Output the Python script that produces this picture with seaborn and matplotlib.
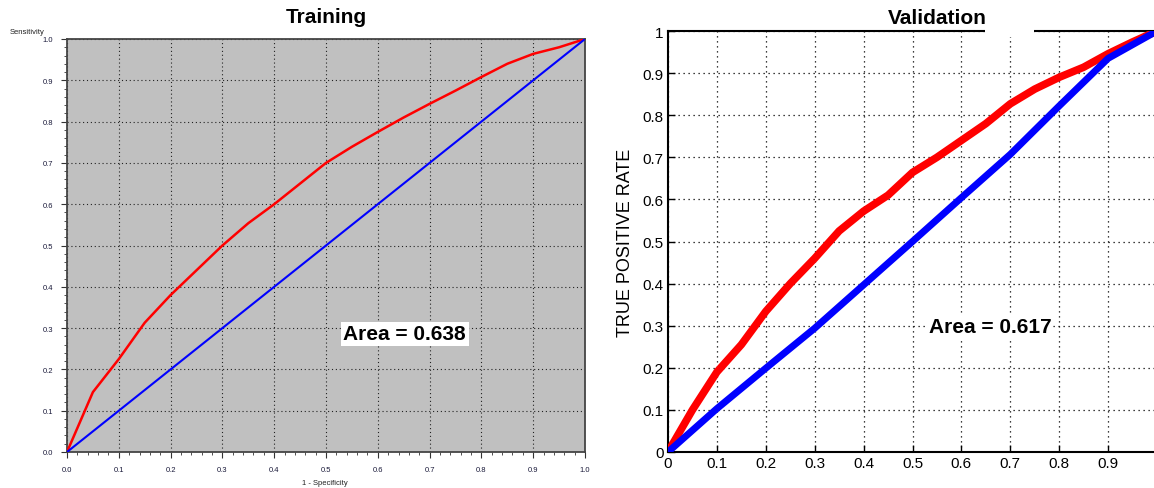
import matplotlib
matplotlib.use("Agg")
import matplotlib.pyplot as plt
import seaborn as sns
from matplotlib.ticker import MultipleLocator
from matplotlib.patches import Rectangle

# ---- data ----
train_fpr = [0.0, 0.05, 0.10, 0.15, 0.20, 0.25, 0.30, 0.35, 0.40, 0.45, 0.50,
             0.55, 0.60, 0.65, 0.70, 0.75, 0.80, 0.85, 0.90, 0.95, 1.0]
train_tpr = [0.0, 0.145, 0.225, 0.313, 0.38, 0.44, 0.50, 0.554, 0.60, 0.65, 0.70,
             0.739, 0.775, 0.81, 0.843, 0.875, 0.908, 0.94, 0.964, 0.98, 1.0]
train_diag_x = [0.0, 1.0]
train_diag_y = [0.0, 1.0]

val_fpr = [0.0, 0.05, 0.10, 0.15, 0.20, 0.25, 0.30, 0.35, 0.40, 0.45, 0.50,
           0.55, 0.60, 0.65, 0.70, 0.75, 0.80, 0.85, 0.90, 0.95, 1.0]
val_tpr = [0.0, 0.10, 0.19, 0.255, 0.334, 0.40, 0.46, 0.525, 0.572, 0.61, 0.664,
           0.70, 0.74, 0.78, 0.827, 0.862, 0.89, 0.914, 0.946, 0.974, 1.0]
val_base_x = [0.0, 0.1, 0.2, 0.3, 0.4, 0.5, 0.6, 0.7, 0.8, 0.9, 1.0]
val_base_y = [0.0, 0.103, 0.199, 0.294, 0.397, 0.50, 0.604, 0.707, 0.822, 0.935, 1.0]

train_auc = "Area = 0.638"
val_auc = "Area = 0.617"
ticks = [0.0, 0.1, 0.2, 0.3, 0.4, 0.5, 0.6, 0.7, 0.8, 0.9, 1.0]
left_ticklabels = ["%.1f" % t for t in ticks]
right_yticklabels = ["0", "0.1", "0.2", "0.3", "0.4", "0.5", "0.6", "0.7", "0.8", "0.9", "1"]
right_xticklabels = ["0", "0.1", "0.2", "0.3", "0.4", "0.5", "0.6", "0.7", "0.8", "0.9", ""]

sns.set_style("white")
plt.rcParams['font.family'] = ['Liberation Sans', 'DejaVu Sans']
plt.rcParams['text.color'] = 'black'
plt.rcParams['xtick.color'] = 'black'
plt.rcParams['ytick.color'] = 'black'
plt.rcParams['axes.labelcolor'] = 'black'

W, H = 1154, 489
fig = plt.figure(figsize=(W / 100, H / 100), dpi=100)

def box(x0, x1, ytop, ybot):
    return [x0 / W, 1 - ybot / H, (x1 - x0) / W, (ybot - ytop) / H]

# ---------------- Training ----------------
ax1 = fig.add_axes(box(67, 585, 40, 453))
ax1.set_facecolor("#c0c0c0")
sns.lineplot(x=train_fpr, y=train_tpr, ax=ax1, color="red", lw=1.8, sort=False, zorder=3)
sns.lineplot(x=train_diag_x, y=train_diag_y, ax=ax1, color="blue", lw=1.5, sort=False, zorder=3)
ax1.set_xlim(0, 1)
ax1.set_ylim(0, 1)
ax1.set_xticks(ticks)
ax1.set_yticks(ticks)
ax1.set_xticklabels(left_ticklabels, fontsize=5.5, color="#1a1a3a")
ax1.set_yticklabels(left_ticklabels, fontsize=5.5, color="#1a1a3a")
ax1.xaxis.set_minor_locator(MultipleLocator(0.02))
ax1.yaxis.set_minor_locator(MultipleLocator(0.02))
ax1.tick_params(which="major", direction="out", length=4, width=0.8, color="#333333",
                bottom=True, left=True, pad=6)
ax1.tick_params(which="minor", direction="out", length=2, width=0.6, color="#333333",
                bottom=True, left=True)
ax1.grid(True, which="major", ls=(0, (1, 2.5)), color="#222222", lw=0.8)
for s in ax1.spines.values():
    s.set_color("#444444")
    s.set_linewidth(1.3)
ax1.set_xlabel("")
ax1.set_ylabel("")
ax1.text(0.5, 1.0 + 22 / 413, "Training", transform=ax1.transAxes, fontsize=15,
         fontweight="bold", ha="center", va="center")
ax1.text(0.652, 0.286, train_auc, fontsize=15, fontweight="bold", ha="center", va="center",
         bbox=dict(facecolor="white", edgecolor="none", pad=2.0), zorder=5)
fig.text(10 / W, 1 - 33 / H, "Sensitivity", fontsize=5.5, ha="left", va="center", color="#222222")
fig.text(325 / W, 1 - 484 / H, "1 - Specificity", fontsize=5.5, ha="center", va="center", color="#222222")

# ---------------- Validation ----------------
ax2 = fig.add_axes(box(668, 1157, 32, 453))
ax2.set_facecolor("white")
sns.lineplot(x=val_fpr, y=val_tpr, ax=ax2, color="#ff0000", lw=5.5, sort=False, zorder=3,
             solid_capstyle="round")
sns.lineplot(x=val_base_x, y=val_base_y, ax=ax2, color="#0000ff", lw=5.0, sort=False, zorder=3,
             solid_capstyle="round")
ax2.set_xlim(0, 1)
ax2.set_ylim(0, 1)
ax2.set_xticks(ticks)
ax2.set_yticks(ticks)
ax2.set_xticklabels(right_xticklabels, fontsize=11)
ax2.set_yticklabels(right_yticklabels, fontsize=11)
ax2.tick_params(which="major", direction="in", length=5, width=1, color="black",
                bottom=True, left=True, pad=3)
ax2.grid(True, which="major", ls=(0, (1, 3)), color="black", lw=0.9)
for s in ax2.spines.values():
    s.set_color("black")
    s.set_linewidth(1.5)
ax2.set_xlabel("")
ax2.set_ylabel("TRUE POSITIVE RATE", fontsize=13, labelpad=6)
ax2.text(0.55, 1.0 + 13 / 421, "Validation", transform=ax2.transAxes, fontsize=15,
         fontweight="bold", ha="center", va="center", zorder=6)
ax2.add_patch(Rectangle((0.649, 0.985), 0.1, 0.05, transform=ax2.transAxes,
                        facecolor="white", edgecolor="none", clip_on=False, zorder=4))
ax2.text(0.659, 0.297, val_auc, fontsize=15, fontweight="bold", ha="center", va="center", zorder=5,
         bbox=dict(facecolor="white", edgecolor="none", pad=1.0))

fig.savefig("out.png", dpi=100)
